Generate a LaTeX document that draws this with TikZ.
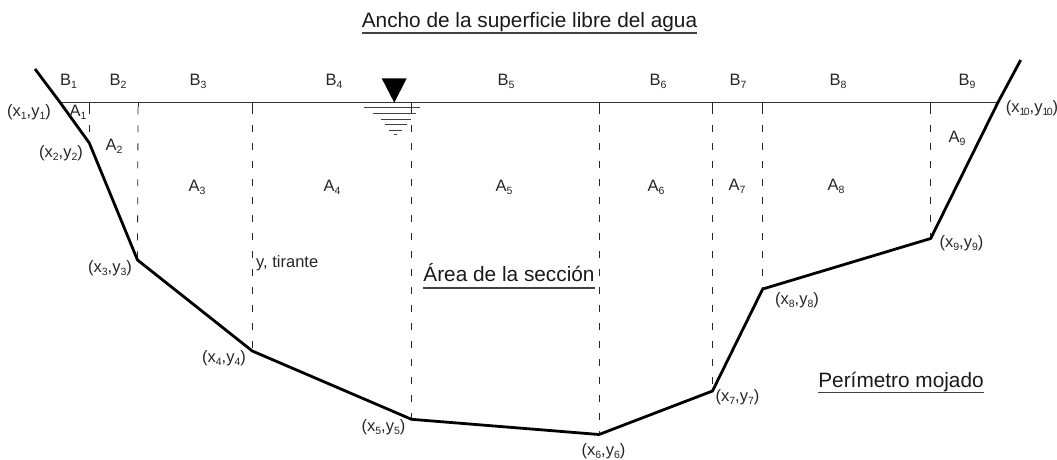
\documentclass[tikz,border=0pt]{standalone}
\usepackage{fontspec}
\setmainfont{Liberation Sans}
\newcommand{\sbs}[1]{\raisebox{-2.8pt}{\fontsize{10.5}{10.5}\selectfont #1}}
\begin{document}
\begin{tikzpicture}[x=1pt,y=-1pt,
  lbl/.style={inner sep=0pt,font=\fontsize{16.5}{18}\selectfont,text=black!85},
  big/.style={inner sep=0pt,anchor=base,font=\fontsize{20.8}{23}\selectfont,text=black!90},
  uline/.style={line width=1.1pt,black!75},
  channel/.style={line width=2.8pt,line join=round},
  surf/.style={line width=0.9pt,black!80},
  tick/.style={line width=0.8pt,black!85},
  drop/.style={line width=0.8pt,dash pattern=on 7pt off 11pt,dash phase=13pt,black!85},
  rip/.style={line width=0.9pt,black!75}]
\useasboundingbox (0,0) rectangle (1057,460);
\coordinate (t0) at (35,69);
\coordinate (p1) at (60,102.3);
\coordinate (p2) at (89.3,143);
\coordinate (p3) at (137.5,260);
\coordinate (p4) at (252.3,351);
\coordinate (p5) at (411.5,419.3);
\coordinate (p6) at (599,434.5);
\coordinate (p7) at (712.5,391);
\coordinate (p8) at (762.7,289);
\coordinate (p9) at (930.7,238.5);
\coordinate (p10) at (998,102.3);
\coordinate (t1) at (1020.7,60);
\coordinate (s2) at (89.3,102.3);
\coordinate (s3) at (138,102.3);
\coordinate (s4) at (252.3,102.3);
\coordinate (s5) at (411.5,102.3);
\coordinate (s6) at (599,102.3);
\coordinate (s7) at (712.5,102.3);
\coordinate (s8) at (762.7,102.3);
\coordinate (s9) at (930.7,102.3);
\draw[surf] (p1) -- (p10);
\foreach \i in {2,...,9} {
  \draw[drop] (s\i) -- (p\i);
  \draw[tick] (s\i) -- ([yshift=-5pt]s\i);
}
\draw[channel] (t0) -- (p1) -- (p2) -- (p3) -- (p4) -- (p5) -- (p6) -- (p7) -- (p8) -- (p9) -- (p10) -- (t1);
% water level symbol
\coordinate (wa) at (381.7,78.3);
\coordinate (wb) at (406.7,78.3);
\coordinate (wc) at (394.3,102.7);
\fill[black] (wa) -- (wb) -- (wc) -- cycle;
\coordinate (r1a) at (364,107.7); \coordinate (r1b) at (420,107.7);
\coordinate (r2a) at (372.7,113.3); \coordinate (r2b) at (416,113.3);
\coordinate (r3a) at (380.7,119); \coordinate (r3b) at (410.7,119);
\coordinate (r4a) at (385,124.7); \coordinate (r4b) at (406.7,124.7);
\coordinate (r5a) at (389,130); \coordinate (r5b) at (402,130);
\coordinate (r6a) at (394,134.3); \coordinate (r6b) at (397,134.3);
\foreach \i in {1,...,6} \draw[rip] (r\i a) -- (r\i b);
% titles
\node[big] (title) at (529.5,28) {Ancho de la superficie libre del agua};
\draw[uline] ([yshift=-5pt]title.base west) -- ([yshift=-5pt]title.base east);
\node[big] (area) at (509,281) {Área de la sección};
\draw[uline] ([yshift=-7pt]area.base west) -- ([yshift=-7pt]area.base east);
\node[big] (peri) at (901,387) {Perímetro mojado};
\draw[uline] ([yshift=-5.5pt]peri.base west) -- ([yshift=-5.5pt]peri.base east);
\node[lbl,anchor=west] (tir) at (256,263) {y, tirante};
% B labels
\foreach \n/\x in {1/68.5,2/118,3/198,4/334,5/506,6/658,7/738,8/838,9/967}
  \node[lbl] (B\n) at (\x,81) {B\sbs{\n}};
% A labels
\foreach \n/\x/\y in {1/78/112,2/114/146,3/197/187,4/332/187,5/504/187,6/656/187,7/737/186,8/836/186,9/957/138}
  \node[lbl] (A\n) at (\x,\y) {A\sbs{\n}};
% point labels
\foreach \n/\x/\y in {1/29/112,2/61/153,3/110/268,4/224/358,5/383.5/427,6/603.5/451,7/737.5/397,8/797/300,9/961.5/243}
  \node[lbl] (L\n) at (\x,\y) {(x\sbs{\n},y\sbs{\n})};
\node[lbl] (L10) at (1032,108) {(x\sbs{1\kern-1.6pt 0},y\sbs{1\kern-1.6pt 0})};
\end{tikzpicture}
\end{document}
